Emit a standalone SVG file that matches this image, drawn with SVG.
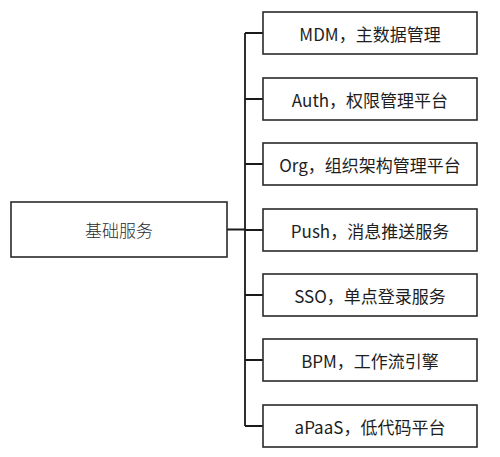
<svg xmlns="http://www.w3.org/2000/svg" width="500" height="457" viewBox="0 0 500 457">
<style>
.box{fill:#fff;stroke:#2a2a2a;stroke-width:1.6}
.t{font-family:"Noto Sans CJK SC","Noto Sans",sans-serif;font-size:17px;fill:#1e1e1e;text-anchor:middle;dominant-baseline:central}
.root{font-family:"Noto Sans CJK SC",sans-serif;font-size:17px;font-weight:300;fill:#2a2a2a;text-anchor:middle;dominant-baseline:central}
.c{fill:none;stroke:#1a1a1a;stroke-width:1.8}
</style>
<rect width="500" height="457" fill="#fff"/>
<g id="connectors">
<path class="c" d="M245 33V426M227 229.5H245M245 33H263M245 99H263M245 164H263M245 230H263M245 295H263M245 360H263M245 426H263"/>
</g>
<g id="root"><rect class="box" x="11" y="202" width="216" height="55"/><text class="root" x="119" y="229.5">基础服务</text></g>
<g id="mdm"><rect class="box" x="263" y="12" width="214" height="42"/><text class="t" x="370" y="33">MDM，主数据管理</text></g>
<g id="auth"><rect class="box" x="263" y="78" width="214" height="42"/><text class="t" x="370" y="99">Auth，权限管理平台</text></g>
<g id="org"><rect class="box" x="263" y="143" width="214" height="42"/><text class="t" x="370" y="164">Org，组织架构管理平台</text></g>
<g id="push"><rect class="box" x="263" y="209" width="214" height="42"/><text class="t" x="370" y="230">Push，消息推送服务</text></g>
<g id="sso"><rect class="box" x="263" y="274" width="214" height="42"/><text class="t" x="370" y="295">SSO，单点登录服务</text></g>
<g id="bpm"><rect class="box" x="263" y="339" width="214" height="42"/><text class="t" x="370" y="360">BPM，工作流引擎</text></g>
<g id="apaas"><rect class="box" x="263" y="405" width="214" height="42"/><text class="t" x="370" y="426">aPaaS，低代码平台</text></g>
</svg>
